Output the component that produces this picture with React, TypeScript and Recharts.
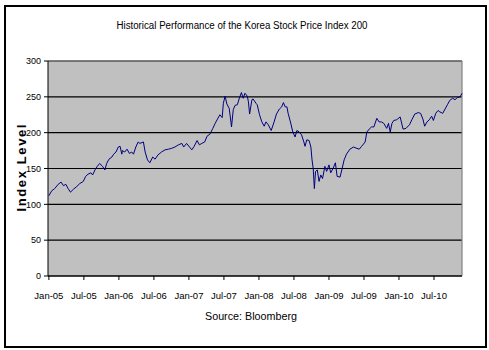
import { LineChart, Line, XAxis, YAxis, CartesianGrid, ReferenceLine } from "recharts";

// months elapsed since Jan-05
const months = [
  0.0, 0.5, 1.0, 1.6, 2.1, 2.5, 2.9, 3.3, 3.7, 4.2, 4.8, 5.3, 5.9, 6.3, 6.7, 7.2, 7.5, 7.9, 8.3, 8.7,
  9.2, 9.6, 9.9, 10.3, 10.8, 11.1, 11.5, 11.9, 12.2, 12.5, 12.6, 13.0, 13.4, 13.8, 14.2, 14.5, 14.9, 15.3, 15.6, 16.2,
  16.5, 16.9, 17.3, 17.8, 18.2, 18.7, 19.3, 19.9, 20.5, 21.0, 21.6, 22.2, 22.8, 23.1, 23.6, 24.1, 24.5, 24.9, 25.4, 25.8,
  26.2, 26.7, 27.1, 27.6, 28.1, 28.5, 28.9, 29.3, 29.7, 29.9, 30.2, 30.5, 30.9, 31.2, 31.3, 31.6, 31.9, 32.3, 32.6, 33.0,
  33.3, 33.6, 34.0, 34.2, 34.4, 34.8, 35.0, 35.5, 35.7, 36.1, 36.5, 36.9, 37.2, 37.6, 38.1, 38.6, 39.0, 39.5, 39.9, 40.2,
  40.5, 40.8, 41.0, 41.4, 41.8, 42.2, 42.5, 42.9, 43.3, 43.7, 43.9, 44.2, 44.6, 44.9, 45.1, 45.3, 45.5, 45.7, 46.0, 46.3,
  46.6, 46.9, 47.3, 47.6, 48.0, 48.3, 48.7, 49.1, 49.4, 49.9, 50.2, 50.6, 51.0, 51.6, 52.2, 52.8, 53.2, 53.6, 54.2, 54.5,
  54.9, 55.3, 55.7, 56.2, 56.6, 57.0, 57.4, 57.9, 58.2, 58.5, 58.8, 59.1, 59.6, 60.2, 60.7, 61.2, 61.8, 62.2, 62.7, 63.3,
  63.7, 64.1, 64.4, 64.8, 65.2, 65.6, 65.9, 66.3, 66.7, 67.0, 67.5, 67.9, 68.3, 68.7, 69.2, 69.6, 70.0, 70.5, 70.8,
];

const indexLevel = [
  112, 119, 122, 128, 131, 126, 128, 122, 117, 121, 125, 129, 132, 139, 142, 144, 141, 148, 153, 157,
  153, 148, 157, 163, 166, 170, 173, 180, 181, 170, 175, 173, 177, 171, 173, 170, 180, 187, 185, 187,
  173, 162, 158, 166, 163, 169, 173, 176, 177, 178, 180, 183, 185, 180, 185, 180, 176, 181, 189, 183,
  185, 187, 195, 198, 206, 213, 219, 225, 221, 241, 251, 240, 234, 215, 208, 232, 238, 239, 247, 256,
  248, 255, 251, 243, 226, 246, 247, 241, 239, 225, 215, 209, 215, 211, 203, 215, 226, 233, 236, 242,
  236, 236, 227, 215, 201, 194, 203, 201, 197, 187, 181, 190, 189, 180, 162, 150, 122, 146, 148, 132,
  141, 136, 153, 146, 155, 144, 150, 158, 139, 138, 148, 162, 170, 177, 180, 178, 177, 181, 187, 201,
  205, 208, 208, 220, 215, 215, 213, 206, 213, 201, 213, 217, 218, 222, 205, 206, 211, 218, 226, 228,
  227, 219, 209, 215, 218, 223, 217, 227, 231, 229, 227, 233, 239, 245, 248, 246, 249, 250, 255,
];

const tickMonths = [0, 6, 12, 18, 24, 30, 36, 42, 48, 54, 60, 66];
const tickLabels = ["Jan-05", "Jul-05", "Jan-06", "Jul-06", "Jan-07", "Jul-07", "Jan-08", "Jul-08", "Jan-09", "Jul-09", "Jan-10", "Jul-10"];
const yTicks = [0, 50, 100, 150, 200, 250, 300];

const data = months.map((m, i) => ({ m, v: indexLevel[i] }));

const FONT = "'Liberation Sans', Arial, sans-serif";

export default function App() {
  return (
    <div
      style={{
        position: "absolute",
        left: 0,
        top: 0,
        width: 489,
        height: 350,
        background: "#fff",
        fontFamily: FONT,
      }}
    >
      <div
        style={{
          position: "absolute",
          left: 4,
          top: 5,
          width: 479,
          height: 339,
          border: "2px solid #000",
        }}
      />
      <div style={{ position: "absolute", left: 0, top: 0 }}>
        <LineChart width={489} height={350} data={data} margin={{ top: 61, right: 27, bottom: 54, left: 8 }}>
          <CartesianGrid vertical={false} stroke="#000" strokeWidth={1.2} fill="#c0c0c0" fillOpacity={1} />
          <XAxis
            type="number"
            dataKey="m"
            domain={[-0.15, 70.8]}
            ticks={tickMonths}
            interval={0}
            tickFormatter={(v) => tickLabels[tickMonths.indexOf(v)]}
            height={20}
            tickSize={4}
            tickMargin={12}
            axisLine={{ stroke: "#000" }}
            tickLine={{ stroke: "#000" }}
            tick={{ fontSize: 9.5, fill: "#000", fontFamily: FONT }}
          />
          <YAxis
            type="number"
            domain={[0, 300]}
            ticks={yTicks}
            interval={0}
            width={40}
            tickSize={4}
            tickMargin={3}
            axisLine={{ stroke: "#000" }}
            tickLine={{ stroke: "#000" }}
            tick={{ fontSize: 9, fill: "#000", fontFamily: FONT }}
          />
          <ReferenceLine y={300} stroke="#808080" strokeWidth={1.2} />
          <ReferenceLine x={70.8} stroke="#808080" strokeWidth={1.2} />
          <Line
            type="linear"
            dataKey="v"
            stroke="#000080"
            strokeWidth={1}
            dot={false}
            isAnimationActive={false}
          />
        </LineChart>
      </div>
      <svg
        width={489}
        height={350}
        style={{ position: "absolute", left: 0, top: 0, pointerEvents: "none" }}
        fontFamily={FONT}
      >
        <text x={242} y={29} fontSize={10} textAnchor="middle" textLength={251} lengthAdjust="spacingAndGlyphs">
          Historical Performance of the Korea Stock Price Index 200
        </text>
        <text x={251} y={320} fontSize={11} textAnchor="middle" textLength={92} lengthAdjust="spacingAndGlyphs">
          Source: Bloomberg
        </text>
        <text
          x={0}
          y={0}
          fontSize={13}
          fontWeight="bold"
          textAnchor="middle"
          textLength={87}
          lengthAdjust="spacing"
          transform="translate(26, 168) rotate(-90)"
        >
          Index Level
        </text>
      </svg>
    </div>
  );
}
